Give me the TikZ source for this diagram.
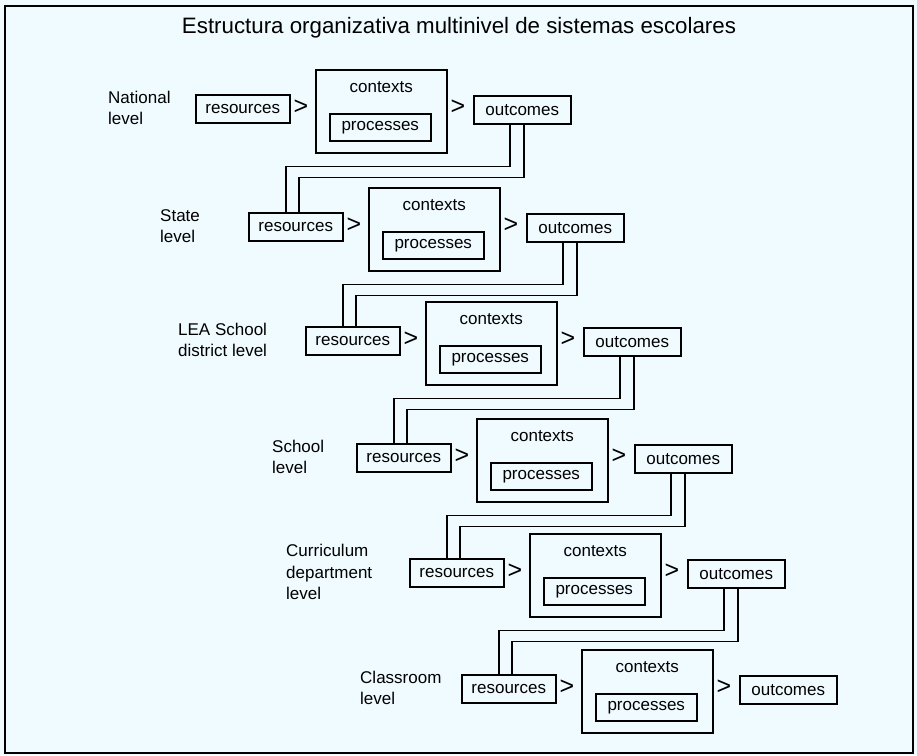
\documentclass[tikz,border=0pt]{standalone}
\usepackage{fontspec}
\setmainfont{Liberation Sans}
\usetikzlibrary{calc}
\definecolor{bgc}{RGB}{240,251,255}
\begin{document}
\begin{tikzpicture}[x=1pt,y=-1pt,
  every node/.style={font=\fontsize{17}{21.5}\selectfont},
  box/.style={draw, line width=1.5pt, inner sep=0pt, anchor=north west},
  resbox/.style={box, minimum width=94pt, minimum height=28pt},
  ctxbox/.style={box, minimum width=131pt, minimum height=83pt},
  procbox/.style={box, minimum width=101pt, minimum height=27pt},
  outbox/.style={box, minimum width=97pt, minimum height=28pt},
  lvl/.style={anchor=west, align=left, inner sep=0pt},
  gt/.style={inner sep=0pt, font=\fontsize{25}{25}\selectfont},
  link/.style={draw, line width=1.5pt}]
\useasboundingbox (0,0) rectangle (917,755);
\fill[bgc] (0,0) rectangle (917,755);
\draw[line width=2pt] (5,6) rectangle (913,753);
\node[font=\fontsize{22.3}{25}\selectfont] (title) at (459,28) {Estructura organizativa multinivel de sistemas escolares};
\foreach \i/\x/\y/\lx/\lab in {0/195/94/108/{National\\level},1/248/212/160/{State\\level},2/305/326/178/{LEA School\\district level},3/356/443/272/{School\\level},4/409/558/286/{Curriculum\\department\\level},5/461/674/360/{Classroom\\level}}{
  \node[resbox] (r\i) at (\x,\y) {resources};
  \node[ctxbox] (c\i) at (\x+120,\y-25) {};
  \node[inner sep=0pt] (ct\i) at ($(c\i.north)+(0,18)$) {contexts};
  \node[procbox] (p\i) at (\x+134,\y+19) {processes};
  \node[outbox] (o\i) at (\x+278,\y+1) {outcomes};
  \node[gt] (ga\i) at (\x+106,\y+13) {>};
  \node[gt] (gb\i) at (\x+263,\y+13) {>};
  \node[lvl] (l\i) at (\lx,\y+14) {\lab};
}
\foreach \i/\j in {0/1,1/2,2/3,3/4,4/5}{
  \path[link] ($(o\i.south west)+(37,0)$) -- ++(0,42) -| ($(r\j.north west)+(38,0)$);
  \path[link] ($(o\i.south west)+(51,0)$) -- ++(0,53) -| ($(r\j.north west)+(51,0)$);
}
\end{tikzpicture}
\end{document}
